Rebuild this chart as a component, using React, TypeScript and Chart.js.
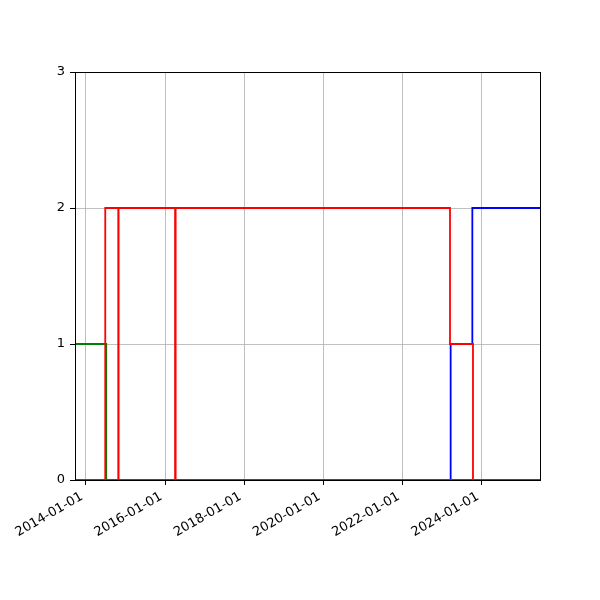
import { useEffect, useRef } from 'react'
import { Chart, registerables } from 'chart.js'

Chart.register(...registerables)

// x range of the axes
const xStart = '2013-09-22'
const xEnd = '2025-06-19'

// tick labels
const xTickDates = ['2014-01-01', '2016-01-01', '2018-01-01', '2020-01-01', '2022-01-01', '2024-01-01']
const yTicks = [0, 1, 2, 3]

// step series (value holds until next date)
const redDates = ['2013-09-22', '2014-06-28', '2014-10-26', '2014-10-29', '2016-04-02', '2016-04-07', '2023-03-12', '2023-10-10', '2025-06-19']
const redValues = [0, 2, 0, 2, 0, 2, 1, 0, 0]

const greenDates = ['2013-09-22', '2014-07-07', '2025-06-19']
const greenValues = [1, 0, 0]

const blueDates = ['2013-09-22', '2023-03-18', '2023-10-04', '2025-06-19']
const blueValues = [0, 1, 2, 2]

const toMs = (d: string) => Date.parse(d + 'T00:00:00Z')
const fmt = (v: number) => new Date(v).toISOString().slice(0, 10)
const points = (dates: string[], values: number[]) => dates.map((d, i) => ({ x: toMs(d), y: values[i] }))

const frame = {
  id: 'frame',
  afterDatasetsDraw(chart: Chart) {
    const { ctx, chartArea } = chart
    ctx.save()
    ctx.strokeStyle = '#000'
    ctx.lineWidth = 1
    ctx.strokeRect(
      Math.round(chartArea.left) + 0.5,
      Math.round(chartArea.top) + 0.5,
      Math.round(chartArea.right - chartArea.left),
      Math.round(chartArea.bottom - chartArea.top)
    )
    ctx.restore()
  },
}

export default function App() {
  const canvasRef = useRef<HTMLCanvasElement>(null)

  useEffect(() => {
    if (!canvasRef.current) return
    const font = { family: 'DejaVu Sans', size: 13 }
    const grid = { color: '#b0b0b0', lineWidth: 0.8, tickColor: '#000', tickLength: 5, tickWidth: 1 }
    const line = (color: string, data: { x: number; y: number }[]) => ({
      data,
      borderColor: color,
      backgroundColor: color,
      borderWidth: 1.8,
      pointRadius: 0,
      stepped: true,
      fill: false,
      clip: false as const,
    })

    const chart = new Chart(canvasRef.current, {
      type: 'line',
      data: {
        datasets: [
          line('#ff0000', points(redDates, redValues)),
          line('#008000', points(greenDates, greenValues)),
          line('#0000ff', points(blueDates, blueValues)),
        ],
      },
      options: {
        animation: false,
        responsive: false,
        layout: { padding: { top: 72, right: 60, left: 0, bottom: 0 } },
        plugins: { legend: { display: false }, tooltip: { enabled: false } },
        scales: {
          x: {
            type: 'linear',
            min: toMs(xStart),
            max: toMs(xEnd),
            afterBuildTicks: (scale: any) => {
              scale.ticks = xTickDates.map(d => ({ value: toMs(d) }))
            },
            afterFit: (scale: any) => {
              scale.height = 120
              scale.paddingLeft = 0
              scale.paddingRight = 0
            },
            ticks: {
              autoSkip: false,
              maxRotation: 30,
              minRotation: 30,
              padding: 4,
              labelOffset: -4,
              color: '#000',
              font,
              callback: (v: any) => fmt(Number(v)),
            },
            grid,
            border: { color: '#000', width: 1 },
          },
          y: {
            type: 'linear',
            min: 0,
            max: 3,
            afterBuildTicks: (scale: any) => {
              scale.ticks = yTicks.map(v => ({ value: v }))
            },
            afterFit: (scale: any) => {
              scale.width = 75
              scale.paddingTop = 0
              scale.paddingBottom = 0
            },
            ticks: { color: '#000', font, padding: 5 },
            grid,
            border: { color: '#000', width: 1 },
          },
        },
      },
      plugins: [frame],
    })

    return () => chart.destroy()
  }, [])

  return (
    <div style={{ position: 'fixed', left: 0, top: 0, width: 600, height: 600, background: '#fff' }}>
      <canvas ref={canvasRef} width={600} height={600} />
    </div>
  )
}
